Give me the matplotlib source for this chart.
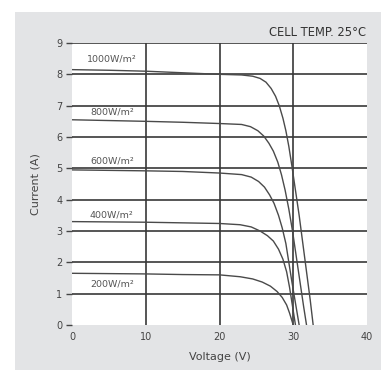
import matplotlib
matplotlib.use("Agg")
import matplotlib.pyplot as plt

# Data (V, I)
labels = ["1000W/m²", "800W/m²", "600W/m²", "400W/m²", "200W/m²"]
v1000 = [0, 5, 10, 15, 20, 23, 24.5, 25.5, 26.3, 27.0, 27.6, 28.1, 28.6, 29.0, 29.4, 29.8, 30.3, 30.8, 31.3, 31.8, 32.3, 32.7]
i1000 = [8.15, 8.13, 8.1, 8.05, 8.0, 7.98, 7.94, 7.87, 7.75, 7.55, 7.3, 7.0, 6.6, 6.2, 5.7, 5.1, 4.3, 3.5, 2.6, 1.7, 0.8, 0.0]
v800 = [0, 10, 15, 20, 23, 24.2, 25.2, 26.0, 26.7, 27.3, 27.9, 28.4, 28.9, 29.4, 29.9, 30.4, 30.9, 31.4, 31.8]
i800 = [6.55, 6.5, 6.47, 6.43, 6.4, 6.33, 6.2, 6.03, 5.8, 5.55, 5.2, 4.8, 4.3, 3.7, 3.0, 2.2, 1.4, 0.6, 0.0]
v600 = [0, 10, 15, 20, 23, 24.3, 25.3, 26.1, 26.8, 27.4, 28.0, 28.5, 29.0, 29.4, 29.8, 30.3, 30.8]
i600 = [4.95, 4.92, 4.9, 4.85, 4.8, 4.72, 4.58, 4.4, 4.15, 3.88, 3.5, 3.1, 2.6, 2.0, 1.4, 0.7, 0.0]
v400 = [0, 10, 15, 20, 22.8, 24.3, 25.5, 26.5, 27.3, 28.0, 28.6, 29.1, 29.5, 29.9, 30.3]
i400 = [3.3, 3.28, 3.26, 3.24, 3.2, 3.13, 3.0, 2.85, 2.68, 2.42, 2.1, 1.7, 1.2, 0.6, 0.0]
v200 = [0, 10, 15, 20, 22.8, 24.5, 25.8, 26.9, 27.8, 28.5, 29.1, 29.5, 29.8, 30.0]
i200 = [1.65, 1.63, 1.61, 1.6, 1.54, 1.47, 1.37, 1.24, 1.07, 0.88, 0.64, 0.38, 0.15, 0.0]
label_y = [8.5, 6.8, 5.22, 3.5, 1.32]
xticks = [0, 10, 20, 30, 40]
yticks = [0, 1, 2, 3, 4, 5, 6, 7, 8, 9]

curves = [(v1000, i1000), (v800, i800), (v600, i600), (v400, i400), (v200, i200)]

fig = plt.figure(figsize=(3.81, 3.70), dpi=100)
fig.patch.set_facecolor("white")
bg = fig.add_axes([15 / 381, 0, 1 - 15 / 381, 1 - 12 / 370])
bg.set_facecolor("#e3e4e6")
bg.set_xticks([]); bg.set_yticks([])
for s in bg.spines.values():
    s.set_visible(False)
bg.set_zorder(0)

ax = fig.add_axes([72 / 381, 45 / 370, (367 - 72) / 381, (325 - 43) / 370])
ax.set_zorder(2)
ax.set_facecolor("white")
ax.set_xlim(0, 40)
ax.set_ylim(0, 9)
ax.set_xticks(xticks)
ax.set_yticks(yticks)
ax.set_xticklabels([str(t) for t in xticks], fontsize=7, color="#444444")
ax.set_yticklabels([str(t) for t in yticks], fontsize=7, color="#444444")
ax.tick_params(axis="y", length=4, width=1.0, color="#444444", pad=3)
ax.tick_params(axis="x", length=0, pad=5)

for y in yticks[1:]:
    ax.axhline(y, color="#383838", lw=1.2, zorder=1)
for x in [10, 20, 30]:
    ax.axvline(x, color="#383838", lw=1.2, zorder=1)
for s in ax.spines.values():
    s.set_visible(False)

for (v, i), lab, ly in zip(curves, labels, label_y):
    ax.plot(v, i, color="#4a4a4a", lw=1.0, zorder=3, solid_joinstyle="round")
    ax.text(5.4, ly, lab, fontsize=6.8, color="#555555", ha="center", va="center", zorder=4)

ax.set_xlabel("Voltage (V)", fontsize=8, color="#444444", labelpad=7)
ax.set_ylabel("Current (A)", fontsize=8, color="#444444", labelpad=11)
fig.text(366 / 381, 1 - 33 / 370, "CELL TEMP. 25°C", fontsize=8.3, color="#333333",
         ha="right", va="center")

fig.savefig("out.png", dpi=100, facecolor=fig.get_facecolor())
